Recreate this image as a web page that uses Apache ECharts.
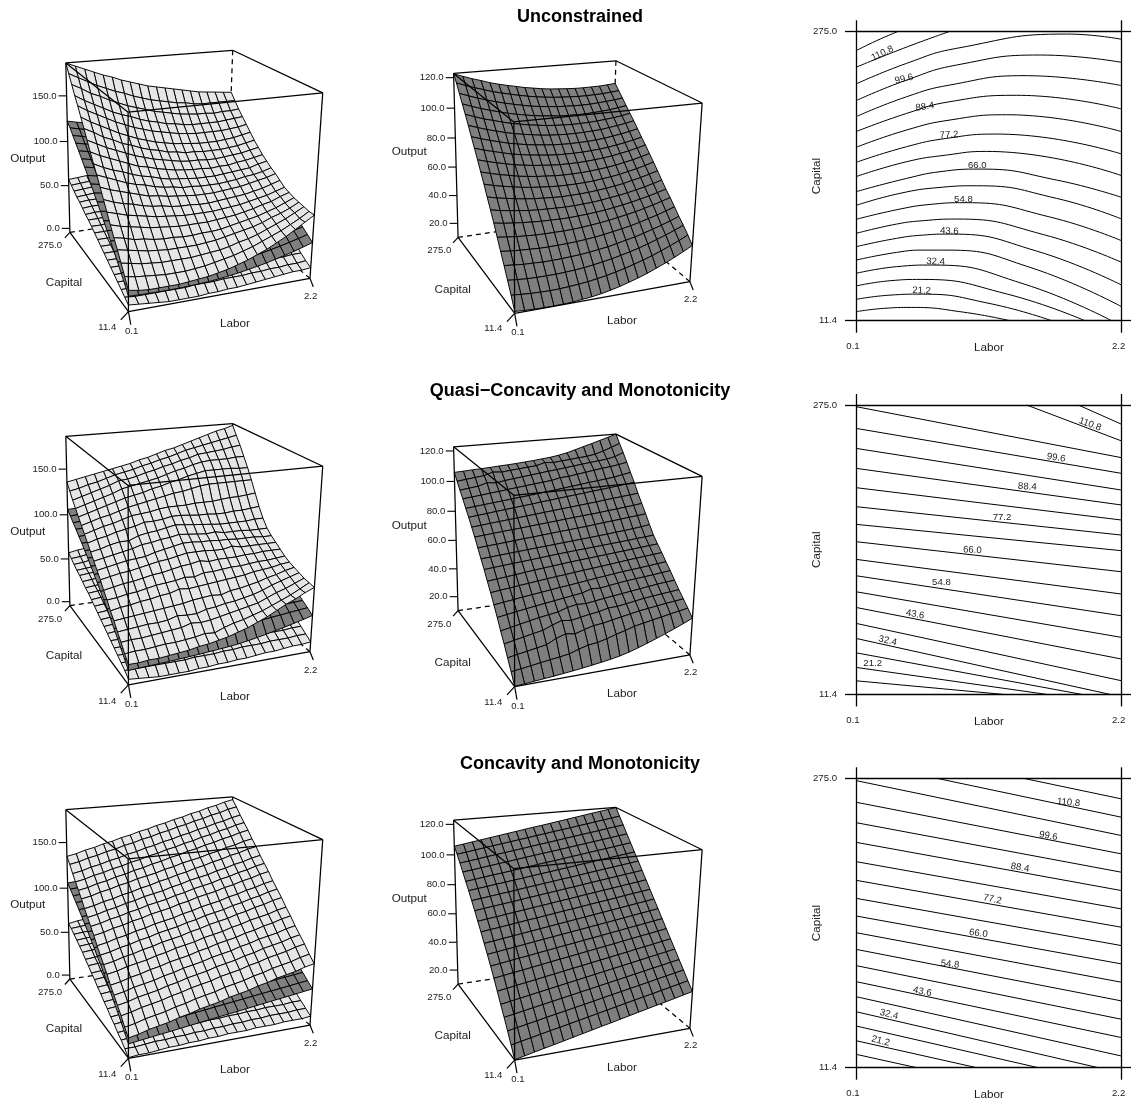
<!DOCTYPE html>
<html><head><meta charset="utf-8"><style>html,body{margin:0;padding:0;background:#fff}#c{width:1131px;height:1103px}</style>
<script src="https://cdn.jsdelivr.net/npm/echarts@6/dist/echarts.min.js"></script></head><body><div id="c"></div><script>
const titles=["Unconstrained","Quasi\u2212Concavity and Monotonicity","Concavity and Monotonicity"];
// Output heights on a 20x20 Labor/Capital mesh; first row is Capital = 11.4, first column Labor = 0.1
const mid1=[
[11,10.5,10.2,10,10,10.1,10.4,10.9,11.5,12.4,13.6,15,16.7,18.5,20.5,22.9,25.3,28,30.9,34],
[18.4,17.8,17.3,17.1,16.9,17.1,17.4,17.9,18.5,19.4,20.4,21.7,23.1,24.8,26.5,28.5,30.7,33.1,35.6,38.4],
[25,24.4,23.9,23.7,23.7,23.7,24,24.4,24.9,25.7,26.7,27.7,29,30.4,31.9,33.7,35.7,37.7,40,42.4],
[31.6,31,30.4,30.2,29.9,29.9,30.1,30.4,30.8,31.4,32.2,33,34.2,35.5,36.7,38.3,40,41.8,43.8,46],
[38,37.3,36.8,36.5,36.1,36.1,36.2,36.4,36.7,37.2,37.8,38.6,39.6,40.6,41.7,43.1,44.7,46.2,48.1,50],
[44.4,43.7,43,42.6,42.2,42.1,42.1,42.1,42.3,42.7,43.3,43.9,44.7,45.7,46.7,47.8,49.2,50.6,52.3,54],
[51,50,49.3,48.7,48.2,47.8,47.7,47.5,47.5,47.8,48.1,48.6,49.2,50,50.9,51.9,53.2,54.4,55.9,57.5],
[57,55.8,54.9,54.1,53.3,52.9,52.6,52.4,52.2,52.3,52.6,52.9,53.5,54.3,55,56,57.2,58.4,59.9,61.5],
[63,61.6,60.5,59.5,58.6,57.9,57.5,57.1,56.8,56.9,57,57.3,57.8,58.4,59.2,60.1,61.4,62.6,64.1,65.7],
[69,67.4,66.1,65,63.9,63.1,62.5,62,61.6,61.5,61.5,61.7,62,62.7,63.3,64.2,65.4,66.5,68,69.6],
[74.7,73,71.6,70.3,69,68.2,67.4,66.9,66.4,66.1,66.1,66.2,66.5,67,67.6,68.4,69.5,70.6,72,73.5],
[80.5,78.7,77.2,75.8,74.4,73.5,72.6,72,71.4,71,70.9,70.9,71.1,71.5,72,72.7,73.7,74.7,76,77.4],
[86,84.1,82.5,81,79.5,78.5,77.5,76.8,76.1,75.6,75.4,75.3,75.4,75.7,76.1,76.7,77.6,78.5,79.7,81],
[91.5,89.6,87.8,86.3,84.7,83.6,82.5,81.7,81,80.4,80.1,79.9,80,80.1,80.5,81,81.8,82.7,83.7,85],
[97,95,93.1,91.5,89.9,88.6,87.5,86.6,85.7,85.1,84.7,84.4,84.4,84.5,84.8,85.1,85.9,86.7,87.6,88.8],
[102.4,100.3,98.3,96.7,95.1,93.6,92.5,91.4,90.6,89.8,89.3,89,88.7,88.8,88.9,89.3,89.8,90.4,91.2,92.3],
[107.5,105.4,103.4,101.7,100.1,98.6,97.4,96.3,95.3,94.6,94,93.4,93.2,93.1,93.1,93.4,93.8,94.3,95.1,96],
[112.7,110.6,108.6,106.8,105.2,103.7,102.4,101.2,100.1,99.3,98.7,98.1,97.8,97.6,97.5,97.6,98,98.4,99,99.7],
[118,115.8,113.9,112.1,110.3,108.9,107.6,106.3,105.2,104.3,103.5,102.9,102.5,102.2,101.9,101.9,102.1,102.3,102.8,103.4],
[122.5,120.4,118.4,116.7,114.8,113.3,112,110.8,109.6,108.7,107.8,107.1,106.7,106.3,106,105.9,106,106.1,106.5,107]];
const upper1=[
[17,15,14,14,14,14,15,16,17,19,21,24,27,31,35,40,45,51,57,63],
[26,24,23,22,21,21,21,22,23,25,27,29,32,35,39,43,47,52,57,63],
[35,33,31,30,29,29,29,29,30,31,32,34,37,39,42,46,50,54,59,64],
[44,42,40,38,37,36,36,36,36,37,38,40,42,44,46,49,53,56,60,65],
[52,50,47,46,44,43,43,42,42,43,43,44,46,48,50,52,55,58,62,66],
[61,58,56,54,52,51,50,49,49,49,49,50,51,52,54,56,59,61,65,68],
[70,67,64,62,60,58,57,56,55,55,55,55,56,57,58,60,62,64,67,70],
[79,75,72,70,67,65,64,62,61,61,60,60,61,62,63,64,66,68,71,74],
[88,84,81,78,75,72,71,69,68,67,66,66,66,67,68,69,71,73,75,78],
[97,93,89,85,82,80,77,75,74,72,72,71,71,71,72,73,75,76,78,81],
[105,100,96,93,89,86,84,81,79,78,77,76,76,76,77,78,79,80,83,85],
[114,109,105,101,97,93,91,88,86,84,83,82,82,81,82,82,84,85,87,89],
[123,118,113,109,105,101,98,95,93,91,89,88,88,87,87,88,89,90,92,94],
[132,127,121,117,112,109,105,102,100,97,96,94,94,93,93,93,94,95,97,99],
[141,135,130,125,120,116,112,109,106,104,102,101,100,99,99,99,100,101,103,105],
[150,144,139,134,129,125,121,118,115,113,111,109,108,107,107,107,107,108,109,111],
[158,152,147,142,137,133,130,126,123,121,118,117,115,114,114,114,114,115,116,117],
[167,162,156,152,147,143,139,136,133,130,128,126,124,123,122,122,121,122,122,123],
[176,171,166,161,157,153,150,146,143,140,138,136,134,133,131,130,130,130,130,130],
[185,181,177,173,169,166,162,159,156,153,151,149,147,145,143,141,140,139,138,137]];
const lower1=[
[2,1,0,-1,-2,-2,-2,-2,-1,-1,0,0,1,2,3,4,5,6,6,7],
[5,4,4,4,4,4,4,5,5,5,6,6,6,7,7,8,8,9,9,10],
[8,8,8,8,8,8,9,9,9,10,10,10,11,11,12,12,13,13,14,14],
[11,11,11,12,12,12,13,13,13,14,14,15,15,16,16,16,17,17,18,18],
[14,14,15,15,15,16,16,17,17,17,18,18,19,19,20,20,21,21,22,22],
[17,17,18,18,19,19,20,20,20,21,21,22,23,23,24,24,25,25,26,26],
[20,20,21,21,22,22,23,23,24,24,25,25,26,27,27,28,28,29,29,30],
[23,23,24,24,25,25,26,26,27,27,28,28,29,30,30,31,31,32,32,33],
[26,26,27,28,28,29,29,30,30,31,31,32,33,33,34,34,35,35,36,37],
[29,29,30,31,31,32,33,33,34,34,35,36,36,37,38,38,39,39,40,41],
[32,32,33,34,34,35,36,36,37,37,38,39,39,40,41,41,42,42,43,44],
[35,35,36,37,37,38,39,39,40,40,41,42,42,43,44,44,45,45,46,47],
[38,38,39,40,40,41,42,42,43,43,44,45,45,46,47,47,48,48,49,50],
[40,41,41,42,43,43,44,45,45,46,47,47,48,49,49,50,51,51,52,53],
[43,44,44,45,46,47,47,48,49,49,50,51,52,52,53,54,55,55,56,57],
[46,47,47,48,49,50,50,51,52,52,53,54,55,55,56,57,58,58,59,60],
[48,49,50,50,51,52,53,54,55,55,56,57,58,59,60,60,61,62,63,64],
[51,52,53,54,54,55,56,57,58,59,60,60,61,62,63,64,65,66,67,68],
[54,55,56,57,58,59,60,60,61,62,63,64,65,66,67,68,69,70,71,72],
[57,58,59,60,61,62,63,64,65,66,67,68,69,70,71,72,73,74,75,77]];
const mid2=[
[10,10.5,11,11.5,12,12.6,13.2,13.9,14.7,15.5,16.4,17.5,19,20.8,22.8,24.9,27.1,29.4,31.8,34.4],
[16.3,17.1,17.9,18.8,19.6,20.4,21.3,23.3,24.9,25.6,27,28.9,30.4,32.2,33.3,34.4,35.4,36.5,37.5,38.5],
[22.3,23.4,24.4,25.5,26.5,29.5,31.5,30.5,32.3,33.9,34.5,35.6,36.7,37.7,38.8,39.5,40.3,41,41.6,42.2],
[28.4,29.6,30.8,32,33.1,35.5,37.5,36.6,37.7,38.7,39.5,40.9,41.1,41.9,42.8,43.7,44.3,44.9,45.4,46],
[34,35.2,36.4,37.6,38.7,39.6,40.5,42.5,43.5,43.2,44,44.8,45.5,46.2,46.9,47.6,48.3,49,49.6,50],
[40,41,41.9,42.8,43.7,44.5,45.3,46.1,46.9,47.7,49.5,49.2,50,50.8,51.5,52,52.5,53,53.6,54.2],
[45.6,46.4,47.1,47.9,48.6,49.3,50,50.7,51.3,52,52.7,53.4,54,54.7,55.3,55.8,56.3,56.8,57.4,58],
[51,51.7,52.3,53,53.6,54.3,54.9,55.5,56,56.6,57.2,57.7,58.3,58.8,59.4,60,60.5,61,61.5,62],
[56,56.6,57.2,57.8,58.5,59.1,59.7,60.2,60.8,61.3,61.8,62.2,62.7,63.1,63.6,64,64.5,64.9,65.4,65.8],
[61.3,61.8,62.3,62.8,63.2,63.7,64.2,64.7,65.2,65.6,66,66.4,66.8,67.2,67.6,68,68.4,68.9,69.3,69.8],
[66,66.4,66.9,67.3,67.7,68.2,68.6,69,69.4,69.9,70.3,70.7,71.1,71.6,72,72.6,73,73.6,74.2,75],
[71,71.5,71.9,72.4,72.9,73.4,73.8,74.3,74.8,75.3,75.7,76.2,76.6,77.2,77.8,78.3,78.8,79.4,79.9,80.5],
[76,76.5,77,77.5,78,78.4,78.9,79.4,79.9,80.4,80.9,81.4,81.9,82.3,82.8,83.4,83.9,84.5,85.1,85.8],
[80.5,81,81.6,82.1,82.7,83.2,83.8,84.3,84.9,85.4,86,86.5,87,87.6,88.1,88.8,89.3,89.9,90.4,91],
[85,85.6,86.2,86.9,87.5,88.1,88.7,89.3,90,90.6,91.2,91.8,92.4,93,93.7,94.2,94.8,95.5,96.1,96.8],
[89,89.6,90.2,90.8,91.4,92,92.6,93.2,93.8,94.5,95.1,95.8,96.5,97.2,97.9,98.5,99.2,99.9,101,102],
[93.5,94.1,94.7,95.4,96,96.7,97.4,98,98.7,99.3,99.9,101.2,101.5,102.4,103.2,104.1,104.9,105.5,106.4,107.5],
[97.5,98.2,98.9,100.6,100,101,101.7,102.4,103.1,103.8,104.5,105.1,105.8,106.5,107.2,107.9,108.5,109.2,110.4,112.7],
[101.7,102.4,103.1,103.8,105.6,105.1,105.7,106.2,106.8,107.3,108.9,108.4,109,109.5,110.1,110.6,111.6,113.3,115.4,117.6],
[106,106.3,106.6,106.9,107.2,107.6,107.9,108.3,108.8,109.3,109.9,110.5,111.4,112.6,114.2,115.9,117.5,119.2,120.9,122.7]];
const upper2=[
[16,16,17,17,18,19,20,22,23,25,27,30,33,37,41,46,51,55,60,64],
[22,23,23,24,25,25,26,27,29,28,32,35,37,40,43,47,51,55,60,65],
[29,30,30,31,32,33,34,37,36,37,39,41,43,45,47,51,55,58,62,66],
[35,36,37,38,38,39,42,41,41,44,45,47,48,50,52,55,59,62,65,68],
[42,43,44,45,46,47,48,49,51,52,53,52,55,56,58,60,63,65,68,70],
[48,50,51,53,54,56,57,60,59,60,61,62,63,64,65,67,68,69,71,72],
[55,56,58,59,61,63,64,65,67,66,69,69,70,71,71,72,73,73,74,75],
[61,63,65,66,68,70,71,73,75,76,78,76,77,77,77,78,78,79,79,79],
[68,70,72,73,75,77,79,80,82,84,84,84,83,83,85,83,83,83,83,83],
[74,76,78,80,81,82,85,87,89,91,91,90,90,89,89,88,88,88,87,87],
[80,82,84,86,88,91,92,94,95,97,96,95,94,95,93,93,93,92,92,92],
[86,88,91,93,93,97,99,100,102,104,103,102,101,100,99,99,99,99,100,100],
[92,95,97,100,102,104,107,107,108,110,110,109,108,108,107,107,108,108,109,110],
[98,101,104,106,109,112,113,114,116,117,117,117,118,118,118,119,120,120,121,122],
[104,107,110,112,115,118,120,122,124,126,128,129,131,133,134,134,134,134,134,134],
[110,113,116,119,122,125,127,129,132,134,137,139,142,144,146,146,146,146,145,145],
[116,119,122,125,128,132,134,136,138,140,143,146,148,151,153,154,154,154,155,155],
[122,125,128,131,134,138,139,141,144,146,149,151,154,156,159,160,161,162,164,165],
[129,131,134,136,139,142,144,146,149,151,154,156,159,162,164,166,168,170,172,174],
[136,138,140,142,144,146,148,150,153,155,158,161,163,166,169,172,175,178,180,183]];
const lower2=[
[1,0,-1,-2,-2,-2,-2,-1,-1,0,0,1,1,2,3,3,4,5,5,6],
[5,5,5,5,5,5,5,6,6,6,7,7,8,8,8,9,9,9,10,10],
[8,8,8,9,9,9,10,10,10,11,11,11,12,12,12,13,13,13,14,14],
[11,11,12,12,12,13,13,14,14,14,15,15,16,16,16,17,17,18,18,18],
[14,14,15,15,16,16,17,17,18,18,18,19,19,20,20,21,21,21,22,22],
[17,17,18,18,19,19,20,21,21,22,22,23,23,24,24,25,25,25,26,26],
[20,21,21,22,22,23,23,24,25,25,26,26,27,27,28,28,29,29,30,30],
[23,24,24,25,25,26,27,27,28,28,29,30,30,31,31,32,33,33,34,34],
[26,27,27,28,29,29,30,31,31,32,33,33,34,35,35,36,36,37,38,38],
[29,30,30,31,32,33,33,34,35,35,36,37,38,38,39,40,40,41,42,42],
[32,33,33,34,35,36,37,37,38,39,39,40,41,42,43,43,44,45,45,46],
[35,36,37,37,38,39,40,41,41,42,43,44,45,45,46,47,48,49,49,50],
[38,39,40,41,41,42,43,44,45,46,46,47,48,49,50,51,51,52,53,54],
[40,41,42,43,44,45,46,47,48,49,49,50,51,52,53,54,55,56,57,58],
[43,44,45,46,47,48,49,50,51,52,53,54,55,56,57,58,59,60,61,62],
[46,47,48,49,50,51,52,53,54,56,57,58,59,60,61,62,63,64,65,67],
[48,49,50,52,53,54,55,56,58,59,60,61,62,64,65,66,67,68,70,72],
[51,52,54,55,56,57,59,60,61,62,64,65,66,67,69,70,71,73,75,77],
[54,55,57,58,59,61,62,63,65,66,67,69,70,71,73,74,76,78,80,82],
[57,59,60,61,63,64,66,67,69,70,72,73,75,76,78,79,81,83,85,88]];
const mid3=[
[10,11.3,12.6,13.9,15.1,16.4,17.7,19,20.3,21.6,22.8,24.1,25.4,26.7,28,29.3,30.5,31.8,33.1,34.4],
[16.4,17.6,18.8,20,21.2,22.3,23.5,24.7,25.9,27.1,28.3,29.5,30.7,31.9,33.1,34.2,35.4,36.6,37.8,39],
[22.5,23.6,24.7,25.8,27,28.1,29.2,30.3,31.4,32.5,33.7,34.8,35.9,37,38.1,39.2,40.4,41.5,42.6,43.7],
[28.4,29.4,30.5,31.5,32.6,33.6,34.7,35.7,36.8,37.8,38.9,39.9,41,42,43.1,44.1,45.2,46.2,47.3,48.3],
[34,35,36,37,38,39,40,41,42,43,44,45,46,47,48,49,50,51,52,53],
[39.8,40.7,41.7,42.6,43.5,44.5,45.4,46.4,47.3,48.2,49.2,50.1,51,52,52.9,53.9,54.8,55.7,56.7,57.6],
[45.6,46.5,47.4,48.2,49.1,50,50.9,51.8,52.6,53.5,54.4,55.3,56.1,57,57.9,58.8,59.7,60.5,61.4,62.3],
[51,51.8,52.7,53.5,54.3,55.2,56,56.9,57.7,58.5,59.4,60.2,61,61.9,62.7,63.6,64.4,65.2,66.1,66.9],
[56.2,57,57.8,58.6,59.4,60.3,61.1,61.9,62.7,63.5,64.3,65.1,65.9,66.7,67.5,68.3,69.2,70,70.8,71.6],
[61,61.8,62.6,63.4,64.2,65,65.8,66.6,67.4,68.2,69,69.8,70.6,71.4,72.2,73,73.8,74.6,75.4,76.2],
[66.2,67,67.7,68.5,69.3,70.1,70.8,71.6,72.4,73.2,73.9,74.7,75.5,76.3,77,77.8,78.6,79.4,80.1,80.9],
[71,71.8,72.5,73.3,74.1,74.8,75.6,76.3,77.1,77.9,78.6,79.4,80.2,80.9,81.7,82.4,83.2,84,84.7,85.5],
[75.8,76.6,77.3,78.1,78.8,79.6,80.4,81.1,81.9,82.6,83.4,84.1,84.9,85.7,86.4,87.2,87.9,88.7,89.4,90.2],
[80.4,81.2,81.9,82.7,83.4,84.2,85,85.7,86.5,87.2,88,88.7,89.5,90.3,91,91.8,92.5,93.3,94,94.8],
[85,85.8,86.5,87.3,88,88.8,89.5,90.3,91.1,91.8,92.6,93.3,94.1,94.9,95.6,96.4,97.1,97.9,98.6,99.4],
[89.2,90,90.8,91.6,92.3,93.1,93.9,94.7,95.5,96.3,97,97.8,98.6,99.4,100.2,101,101.7,102.5,103.3,104.1],
[93.6,94.4,95.2,96,96.8,97.6,98.4,99.2,100,100.8,101.5,102.3,103.1,103.9,104.7,105.5,106.3,107.1,107.9,108.7],
[97.8,98.6,99.4,100.3,101.1,101.9,102.7,103.5,104.4,105.2,106,106.8,107.7,108.5,109.3,110.1,110.9,111.8,112.6,113.4],
[102,102.8,103.7,104.5,105.4,106.2,107.1,107.9,108.7,109.6,110.4,111.3,112.1,112.9,113.8,114.6,115.5,116.3,117.2,118],
[105.7,106.6,107.5,108.4,109.3,110.2,111.1,112,112.9,113.8,114.6,115.5,116.4,117.3,118.2,119.1,120,120.9,121.8,122.7]];
const upper3=[
[16,18,21,23,25,28,30,33,35,37,40,42,44,47,49,52,54,56,59,61],
[22,24,27,29,31,34,36,39,41,43,46,48,50,53,55,58,60,62,65,67],
[29,31,34,36,38,41,43,46,48,50,53,55,57,60,62,65,67,69,72,74],
[35,37,40,42,44,47,49,52,54,56,59,61,63,66,68,71,73,75,78,80],
[41,43,46,48,50,53,55,58,60,62,65,67,69,72,74,77,79,81,84,86],
[47,49,52,54,57,59,62,64,66,69,71,74,76,78,81,83,86,88,91,93],
[54,56,59,61,63,66,68,71,73,75,78,80,82,85,87,90,92,94,97,99],
[60,62,65,67,70,72,75,77,79,82,84,87,89,91,94,96,99,101,104,106],
[66,68,71,73,76,78,81,83,85,88,90,93,95,97,100,102,105,107,110,112],
[72,74,77,79,82,84,87,89,91,94,96,99,101,103,106,108,111,113,116,118],
[79,81,84,86,89,91,94,96,98,101,103,106,108,110,113,115,118,120,123,125],
[85,87,90,92,95,97,100,102,104,107,109,112,114,116,119,121,124,126,129,131],
[91,93,96,98,101,103,106,108,110,113,115,118,120,122,125,127,130,132,135,137],
[97,99,102,104,107,109,112,114,117,119,122,124,127,129,132,134,137,139,142,144],
[104,106,109,111,114,116,119,121,123,126,128,131,133,135,138,140,143,145,148,150],
[110,112,115,117,120,122,125,127,130,132,135,137,140,142,145,147,150,152,155,157],
[116,118,121,123,126,128,131,133,136,138,141,143,146,148,151,153,156,158,161,163],
[122,124,127,129,132,134,137,139,142,144,147,149,152,154,157,159,162,164,167,169],
[129,131,134,136,139,141,144,146,149,151,154,156,159,161,164,166,169,171,174,176],
[135,137,140,142,145,147,150,152,155,157,160,162,165,167,170,172,175,177,180,182]];
const lower3=[
[-4,-3,-3,-2,-1,-1,0,0,1,1,2,2,2,3,3,3,4,4,4,5],
[0,0,1,2,2,3,3,4,4,5,5,6,6,7,7,8,8,8,9,9],
[4,5,5,6,6,7,7,8,8,9,9,10,10,11,11,12,12,12,13,13],
[7,8,8,9,9,10,11,11,12,12,13,13,14,14,15,15,16,16,17,17],
[11,12,12,13,13,14,14,15,16,16,17,17,18,18,19,19,20,20,21,21],
[14,15,16,17,17,18,19,19,20,21,21,22,22,23,23,24,24,25,25,25],
[18,19,19,20,21,22,22,23,24,24,25,25,26,26,27,27,28,28,29,29],
[21,22,23,24,24,25,26,27,27,28,29,29,30,30,31,31,32,32,33,33],
[25,26,26,27,28,29,30,30,31,32,33,33,34,34,35,35,36,36,37,37],
[28,29,30,31,32,33,33,34,35,36,37,37,38,38,39,39,40,40,41,41],
[32,33,34,35,36,36,37,38,39,40,40,41,42,42,43,43,44,44,45,45],
[35,36,37,38,39,40,41,42,43,44,44,45,46,46,47,47,48,48,49,49],
[39,40,41,42,43,44,45,46,47,47,48,49,49,50,51,51,52,52,53,53],
[42,43,44,45,46,47,48,49,50,51,52,53,53,54,55,55,56,56,57,57],
[46,47,48,49,50,51,52,53,54,55,56,57,57,58,59,59,60,60,61,62],
[49,50,51,52,53,54,55,57,58,59,60,61,61,62,63,63,64,65,65,66],
[52,53,54,55,56,58,59,60,61,62,63,64,65,66,67,67,68,69,70,71],
[55,56,57,58,60,61,62,63,64,66,67,68,69,70,71,72,73,74,74,75],
[58,59,60,62,63,64,66,67,68,70,71,72,73,74,75,76,77,78,79,80],
[60,62,63,65,66,68,69,70,72,73,74,76,77,78,80,81,82,83,84,85]];
const contours1=[[.1,257.3,.263,266.5,.435,275],[.1,242.2,.474,259.5,.843,275],[.1,227,.5,245.8,.896,259.5,1.765,272.5,2.2,267.7],[.1,211.8,.5,230.6,.896,244.3,1.555,253.4,2.2,246.7],[.1,197.2,.5,215.4,.843,226.1,1.428,234.6,2.2,225.5],[.1,183.6,.5,200.2,.843,210.9,1.37,216.7,2.2,204.2],[.1,169.3,.5,185.1,.843,194.2,1.29,199,2.2,183.6],[.1,155.6,.5,169.9,.817,177.5,1.21,181.4,2.2,163.2],[.1,142.6,.5,156.2,.817,162.3,1.13,165.6,2.2,143.5],[.1,128.9,.5,141,.764,147.1,1.08,149.5,1.686,139.5,2.2,123.7],[.1,116.4,.448,127.4,.764,132.8,1.054,134.3,1.686,122.8,2.2,104],[.1,103.7,.448,113.1,.685,117.3,.962,118.9,1.634,105.8,2.2,84.2],[.1,90.9,.42,99.4,.632,102.5,.896,104,1.58,89.9,2.2,64.5],[.1,78.8,.42,86.4,.632,89.4,.843,90.3,1.528,74.8,2.2,43.8],[.1,66.6,.42,73.6,.632,75.7,.817,75.7,1.475,60,2.2,24.1],[.1,54.5,.42,60.6,.711,62.1,1.42,45.1,2.12,11.4],[.1,43,.369,47.8,.619,49,1.29,35.8,1.91,11.4],[.1,30.8,.369,34.7,.619,35.6,1.159,27,1.647,11.4],[.1,19.6,.316,22.6,.54,23.5,.948,19.2,1.317,11.4]];
const contours2=[[1.857,275,2.2,257.4],[1.449,275,2.2,242.2],[.1,273.5,2.2,227],[.1,253.7,2.2,212.7],[.1,235.5,2.2,197.5],[.1,217.3,2.2,183.9],[.1,199.7,2.2,170.2],[.1,182.4,2.2,156.5],[.1,166.3,2.2,142.3],[.1,150.5,2.2,123.1],[.1,134.4,2.2,102.8],[.1,119.5,2.2,83],[.1,104.9,2.2,63.3],[.1,90.6,2.2,43.6],[.1,76.1,2.2,23.8],[.1,62.4,2.108,11.4],[.1,49.3,1.884,11.4],[.1,36,1.607,11.4],[.1,23.8,1.265,11.4]];
const contours3=[[1.423,275,2.2,256.2],[.738,275,2.2,239.5],[.1,272.9,2.2,222.8],[.1,253.2,2.2,206.1],[.1,234.6,2.2,189.4],[.1,216.7,2.2,172.7],[.1,199.1,2.2,156],[.1,182.1,2.2,139.3],[.1,165.7,2.2,122.6],[.1,149.6,2.2,105.9],[.1,134.4,2.2,89.2],[.1,119.2,2.2,72.2],[.1,104.4,2.2,55.5],[.1,89.8,2.2,38.8],[.1,76.1,2.2,22],[.1,62.4,2.015,11.4],[.1,49.4,1.541,11.4],[.1,36,1.054,11.4],[.1,23.6,.58,11.4]];
const contourLabels1=[[.308,254.9,"110.8",25],[.48,231.5,"99.6",13],[.645,206.3,"88.4",8],[.835,180.5,"77.2",4],[1.059,152.6,"66.0",0],[.949,121.9,"54.8",0],[.838,93,"43.6",-2],[.73,65.1,"32.4",-2],[.619,38.7,"21.2",-2]];
const contourLabels2=[[1.95,257.4,"110.8",-20],[1.681,227,"99.6",-8],[1.454,200.6,"88.4",-3],[1.254,172.6,"77.2",0],[1.02,142.9,"66.0",-3],[.775,113.4,"54.8",0],[.567,84.3,"43.6",-10],[.35,60.3,"32.4",-12],[.232,39.3,"21.2",0]];
const contourLabels3=[[1.78,252.9,"110.8",-6],[1.62,222.5,"99.6",-10],[1.396,193.6,"88.4",-10],[1.178,164.8,"77.2",-12],[1.067,133.8,"66.0",-8],[.843,105.6,"54.8",-5],[.624,80.7,"43.6",-12],[.361,60,"32.4",-14],[.295,35.7,"21.2",-15]];
const laborTicks=[.1,2.2], capitalTicks=[11.4,275];
const zTicksLeft=[0,50,100,150], zTicksMid=[20,40,60,80,100,120];
const zRangeLeft=[-4.7,185], zRangeMid=[9.8,122.7];

const LIGHT='#e6e6e6',DARK='#7f7f7f',FONT='"Liberation Sans",Arial,sans-serif',INK='#1c1c1c';
const rowTop=[31.3,405,778.3], rowShift=[0,373.3,746.7];
const cornerKeys=[[0,1,1],[1,1,1],[1,0,1],[0,0,1],[0,1,0],[1,0,0],[0,0,0]];
const cornersLeft=[[65.7,63.3],[232.7,50],[322.7,93.3],[128.3,111.7],[70,232.3],[310,278.3],[128.3,311.7]];
const cornersMid=[[453.3,73.3],[616,61],[702,102.7],[514.3,122.3],[458.3,237.3],[690,281.7],[514.3,313.3]];
function fit(corners){const n=11,M=Array.from({length:n},()=>new Array(n+1).fill(0));
 const add=(r,b)=>{for(let i=0;i<n;i++){for(let j=0;j<n;j++)M[i][j]+=r[i]*r[j];M[i][n]+=r[i]*b}};
 corners.forEach((c,i)=>{const [s,t,w]=cornerKeys[i],[u,v]=c;add([s,t,w,1,0,0,0,0,-u*s,-u*t,-u*w],u);add([0,0,0,0,s,t,w,1,-v*s,-v*t,-v*w],v)});
 for(let i=0;i<n;i++){let p=i;for(let r=i+1;r<n;r++)if(Math.abs(M[r][i])>Math.abs(M[p][i]))p=r;[M[i],M[p]]=[M[p],M[i]];
  for(let r=0;r<n;r++)if(r!==i){const f=M[r][i]/M[i][i];for(let j=i;j<=n;j++)M[r][j]-=f*M[i][j]}}
 return M.map((r,i)=>r[n]/r[i])}
const camLeft=fit(cornersLeft),camMid=fit(cornersMid);
function proj(P,s,t,w,row){const d=P[8]*s+P[9]*t+P[10]*w+1;return [(P[0]*s+P[1]*t+P[2]*w+P[3])/d,(P[4]*s+P[5]*t+P[6]*w+P[7])/d+rowShift[row]]}
const PX=3; // index of the page-wide hidden grid
function surface(grid,col,row,fill){const P=col?camMid:camLeft,zr=col?zRangeMid:zRangeLeft,W=z=>(z-zr[0])/(zr[1]-zr[0]),nt=grid.length,ns=grid[0].length,data=[];
 for(let k=nt-2;k>=0;k--)for(let i=ns-2;i>=0;i--)data.push([i,k,grid[k][i],grid[k][i+1],grid[k+1][i+1],grid[k+1][i]]);
 return {type:'custom',xAxisIndex:PX,yAxisIndex:PX,clip:false,silent:true,animation:false,progressive:0,data,
  renderItem:(p,api)=>{const i=api.value(0),k=api.value(1),S=a=>a/(ns-1),T=a=>a/(nt-1);
   const q=[[i,k,2],[i+1,k,3],[i+1,k+1,4],[i,k+1,5]].map(([a,b,c])=>api.coord(proj(P,S(a),T(b),W(api.value(c)),row)));
   return {type:'polygon',shape:{points:q},style:{fill,stroke:'#000',lineWidth:.95}}}}}
function boxSeries(col,row,solid){const P=col?camMid:camLeft,
  edges=solid?[[0,1,1,1,1,1],[1,1,1,1,0,1],[1,0,1,0,0,1],[0,0,1,0,1,1],[0,1,1,0,1,0],[0,0,1,0,0,0],[1,0,1,1,0,0],[0,0,0,1,0,0],[0,0,0,0,1,0]]:[[1,1,1,1,1,0],[0,1,0,1,1,0],[1,0,0,1,1,0]];
 return {type:'custom',xAxisIndex:PX,yAxisIndex:PX,clip:false,silent:true,animation:false,data:edges,
  renderItem:(p,api)=>{const a=api.coord(proj(P,api.value(0),api.value(1),api.value(2),row)),b=api.coord(proj(P,api.value(3),api.value(4),api.value(5),row));
   return {type:'line',shape:{x1:a[0],y1:a[1],x2:b[0],y2:b[1]},style:{stroke:'#000',lineWidth:1.25,lineDash:solid?null:[5,4]}}}}}
function zAxisSeries(col,row){const P=col?camMid:camLeft,zr=col?zRangeMid:zRangeLeft,ticks=col?zTicksMid:zTicksLeft;
 return {type:'custom',xAxisIndex:PX,yAxisIndex:PX,clip:false,silent:true,animation:false,data:ticks.map(v=>[v,0]),
  renderItem:(p,api)=>{const v=api.value(0),a=api.coord(proj(P,0,1,(v-zr[0])/(zr[1]-zr[0]),row));
   return {type:'group',children:[{type:'line',shape:{x1:a[0]-8,y1:a[1],x2:a[0],y2:a[1]},style:{stroke:'#000',lineWidth:1.1}},
    {type:'text',style:{x:a[0]-10,y:a[1],text:v.toFixed(1),align:'right',verticalAlign:'middle',fill:INK,font:'9.6px '+FONT}}]}}}}
const cornerTexts=[
 [["Output",27.7,158.3,11.7],["Capital",64,282.3,11.7],["Labor",235,323.3,11.7],["11.4",107.3,327.7,9.6],["0.1",131.7,331,9.6],["2.2",310.7,296.7,9.6],["275.0",50,245.7,9.6]],
 [["Output",409.3,152,11.7],["Capital",452.7,289.3,11.7],["Labor",622,320.7,11.7],["11.4",493.3,328.7,9.6],["0.1",518,332.7,9.6],["2.2",690.7,299,9.6],["275.0",439.3,250.7,9.6]]];
function textSeries(col,row){return {type:'custom',xAxisIndex:PX,yAxisIndex:PX,clip:false,silent:true,animation:false,data:cornerTexts[col].map((c,i)=>[i,0]),
  renderItem:(p,api)=>{const c=cornerTexts[col][api.value(0)],a=api.coord([c[1],c[2]+rowShift[row]]);
   return {type:'text',style:{x:a[0],y:a[1],text:c[0],align:'center',verticalAlign:'middle',fill:INK,font:c[3]+'px '+FONT}}}}}
function stubSeries(col,row){const P=col?camMid:camLeft,st=[[0,0,0,-7.7,8.3],[0,0,0,2.3,13],[1,0,0,3.3,8.3],[0,1,0,-5,5.5]];
 return {type:'custom',xAxisIndex:PX,yAxisIndex:PX,clip:false,silent:true,animation:false,data:st,
  renderItem:(p,api)=>{const a=api.coord(proj(P,api.value(0),api.value(1),api.value(2),row));
   return {type:'line',shape:{x1:a[0],y1:a[1],x2:a[0]+api.value(3),y2:a[1]+api.value(4)},style:{stroke:'#000',lineWidth:1.2}}}}}
const fmt=v=>(+v).toFixed(1);
const grids=[],xAxes=[],yAxes=[],series=[];
[0,1,2].forEach(r=>{grids.push({left:856,top:rowTop[r],width:265.7,height:289.4})});
grids.push({left:0,top:0,width:1131,height:1103});
const lineStyle={color:'#000',width:1.3};
[0,1,2].forEach(r=>{
 xAxes.push({gridIndex:r,type:'value',min:.1,max:2.2,position:'bottom',name:'Labor',nameLocation:'middle',nameGap:21,nameMoveOverlap:false,nameTextStyle:{fontFamily:FONT,fontSize:11.7,color:INK},
  axisLine:{show:true,onZero:false,lineStyle},axisTick:{show:true,customValues:laborTicks,length:12,lineStyle},axisLabel:{show:true,customValues:laborTicks,formatter:fmt,margin:21,padding:[0,6,0,0],fontFamily:FONT,fontSize:9.6,color:INK},splitLine:{show:false}});
 yAxes.push({gridIndex:r,type:'value',min:11.4,max:275,position:'left',name:'Capital',nameLocation:'middle',nameGap:33,nameMoveOverlap:false,nameTextStyle:{fontFamily:FONT,fontSize:11.7,color:INK},
  axisLine:{show:true,onZero:false,lineStyle},axisTick:{show:true,customValues:capitalTicks,length:11,lineStyle},axisLabel:{show:true,customValues:capitalTicks,formatter:fmt,margin:19,fontFamily:FONT,fontSize:9.6,color:INK},splitLine:{show:false}});
});
[0,1,2].forEach(r=>{
 xAxes.push({gridIndex:r,type:'value',min:.1,max:2.2,position:'top',axisLine:{show:true,onZero:false,lineStyle},axisTick:{show:true,customValues:laborTicks,length:11,lineStyle},axisLabel:{show:false},splitLine:{show:false}});
 yAxes.push({gridIndex:r,type:'value',min:11.4,max:275,position:'right',axisLine:{show:true,onZero:false,lineStyle},axisTick:{show:true,customValues:capitalTicks,length:11,lineStyle},axisLabel:{show:false},splitLine:{show:false}});
});
xAxes.splice(PX,0,{gridIndex:3,type:'value',min:0,max:1131,show:false});
yAxes.splice(PX,0,{gridIndex:3,type:'value',min:0,max:1103,inverse:true,show:false});
const surf=[[lower1,mid1,upper1],[lower2,mid2,upper2],[lower3,mid3,upper3]];
[0,1,2].forEach(r=>{
 series.push(boxSeries(0,r,false));
 series.push(surface(surf[r][0],0,r,LIGHT),surface(surf[r][1],0,r,DARK),surface(surf[r][2],0,r,LIGHT));
 series.push(boxSeries(0,r,true),zAxisSeries(0,r),stubSeries(0,r),textSeries(0,r));
 series.push(boxSeries(1,r,false),surface(surf[r][1],1,r,DARK),boxSeries(1,r,true),zAxisSeries(1,r),stubSeries(1,r),textSeries(1,r));
});
[contours1,contours2,contours3].forEach((cs,r)=>cs.forEach(c=>{const d=[];for(let i=0;i<c.length;i+=2)d.push([c[i],c[i+1]]);
 series.push({type:'line',xAxisIndex:r,yAxisIndex:r,data:d,symbol:'none',smooth:r===0?.5:false,silent:true,animation:false,clip:true,lineStyle:{color:'#000',width:1}})}));
[contourLabels1,contourLabels2,contourLabels3].forEach((cl,r)=>series.push({type:'custom',xAxisIndex:r,yAxisIndex:r,clip:false,silent:true,animation:false,data:cl.map(c=>[c[0],c[1],c[3],c[2]]),
 renderItem:(p,api)=>{const a=api.coord([api.value(0),api.value(1)]);return {type:'text',x:a[0],y:a[1],rotation:api.value(2)*Math.PI/180,style:{x:0,y:0,text:cl[p.dataIndex][2],align:'center',verticalAlign:'middle',fill:INK,font:'9.6px '+FONT}}}}));
const option={backgroundColor:'#fff',animation:false,
 title:titles.map((t,i)=>({text:t,left:575,top:[3.5,377.5,750.5][i],textAlign:'center',textStyle:{fontFamily:FONT,fontWeight:'bold',fontSize:18,color:'#000'}})),
 grid:grids,xAxis:xAxes,yAxis:yAxes,series};
echarts.init(document.getElementById('c')).setOption(option);
</script></body></html>
